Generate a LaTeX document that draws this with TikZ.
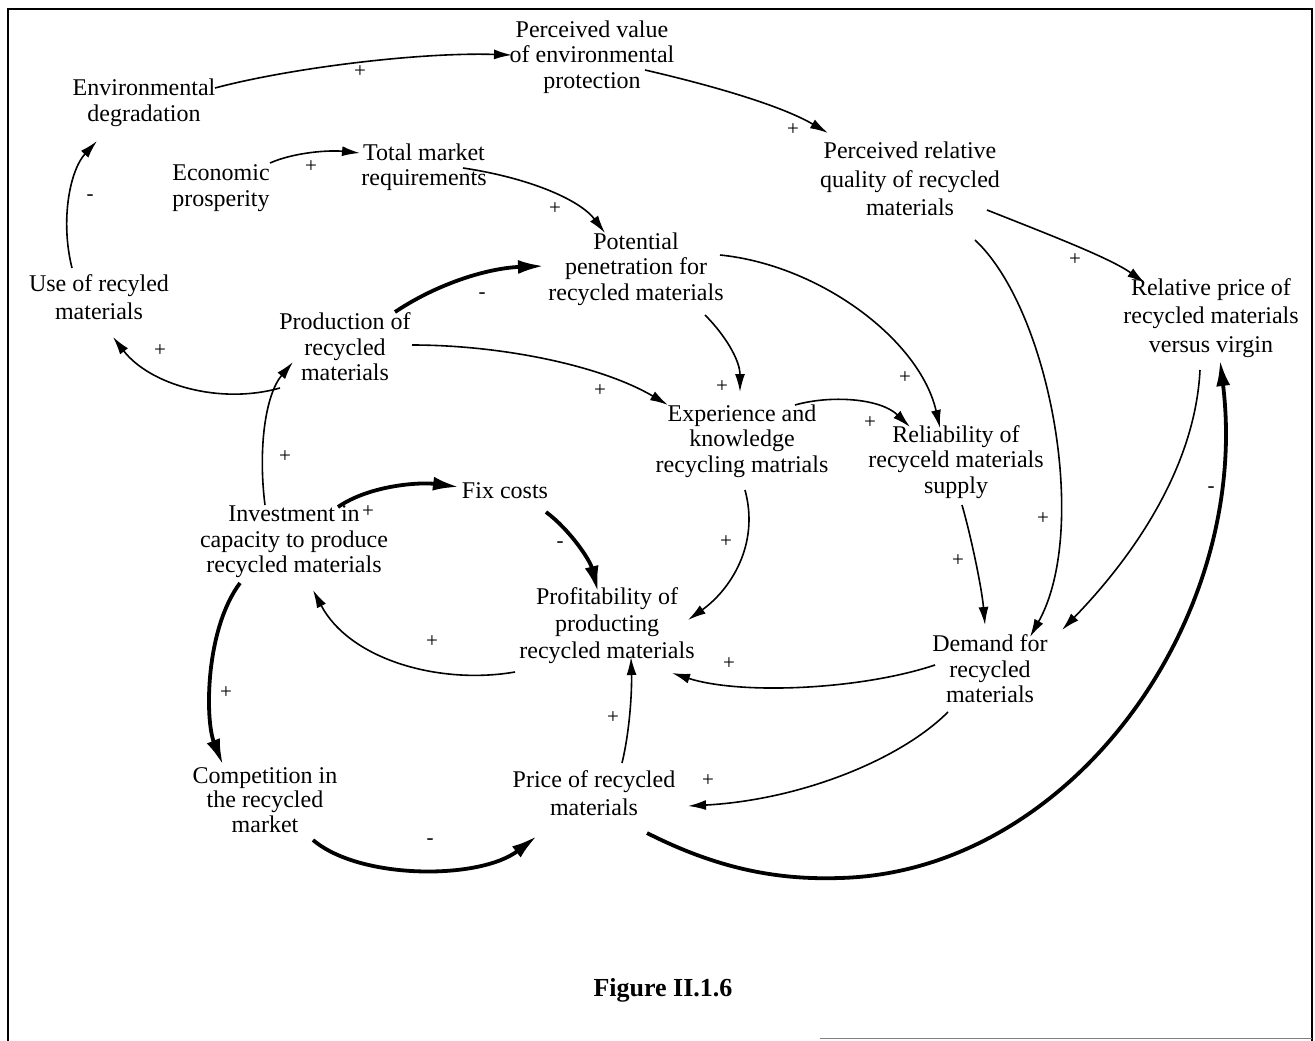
\documentclass[tikz,border=0pt]{standalone}
\usepackage{fontspec}
\setmainfont{Liberation Serif}
\usetikzlibrary{arrows.meta,calc}
\tikzset{
  lbl/.style={align=center,inner sep=0pt,font=\fontsize{24}{25.5}\selectfont},
  lblwide/.style={align=center,inner sep=0pt,font=\fontsize{24}{28.5}\selectfont},
  sgn/.style={inner sep=0pt,font=\fontsize{21}{21}\selectfont},
  thinarr/.style={line width=1.6pt,-{Latex[length=18pt,width=10pt]}},
  thickarr/.style={line width=3.8pt,-{Latex[length=26pt,width=14pt]}},
}
\begin{document}
\begin{tikzpicture}[x=1pt,y=-1pt]
\useasboundingbox (0,0) rectangle (1315,1041);
% frame
\draw[line width=1.5pt] (8,1041) -- (8,9) -- (1312,9) -- (1312,1041);
\draw[line width=1pt,gray] (820,1038) -- (1312,1038);

% nodes
\node[lbl] (pval) at (592,57) {Perceived value\\of environmental\\protection};
\node[lbl] (envdeg) at (144,103) {Environmental\\degradation};
\node[lbl] (econ) at (221,188) {Economic\\prosperity};
\node[lbl] (tmr) at (424,167) {Total market\\requirements};
\node[lblwide] (prq) at (910,179) {Perceived relative\\quality of recycled\\materials};
\node[lbl] (pot) at (636,269) {Potential\\penetration for\\recycled materials};
\node[lblwide] (use) at (99,297) {Use of recyled\\materials};
\node[lbl] (prod) at (345,347) {Production of\\recycled\\materials};
\node[lblwide] (relp) at (1211,318) {Relative price of\\recycled materials\\versus virgin};
\node[lbl] (exp) at (742,441) {Experience and\\knowledge\\recycling matrials};
\node[lbl] (rel) at (956,462) {Reliability of\\recyceld materials\\supply};
\node[lbl] (fix) at (505,491) {Fix costs};
\node[lbl] (inv) at (294,542) {Investment in\\capacity to produce\\recycled materials};
\node[align=center,inner sep=0pt,font=\fontsize{24}{27}\selectfont] (prof) at (607,626) {Profitability of\\producting\\recycled materials};
\node[lbl] (dem) at (990,669) {Demand for\\recycled\\materials};
\node[align=center,inner sep=0pt,font=\fontsize{24}{24.5}\selectfont] (comp) at (265,800) {Competition in\\the recycled\\market};
\node[lblwide] (price) at (594,793) {Price of recycled\\materials};
\node[inner sep=0pt,font=\fontsize{26}{28}\selectfont\bfseries] (fig) at (663,990) {Figure II.1.6};

% connectors (offsets relative to node centres)
\draw[thinarr] ($(envdeg)+(71,-15)$) .. controls (290,68) and (420,52) .. ($(pval)+(-80,-2)$);
\draw[thinarr] ($(pval)+(53,13)$) .. controls (710,85) and (780,105) .. ($(prq)+(-82,-46)$);
\draw[thinarr] ($(econ)+(49,-25)$) .. controls (295,152) and (330,150) .. ($(tmr)+(-64,-14)$);
\draw[thinarr] ($(tmr)+(39,1)$) .. controls (530,178) and (580,200) .. ($(pot)+(-31,-36)$);
\draw[thickarr] ($(prod)+(50,-35)$) .. controls (440,282) and (490,268) .. ($(pot)+(-92,-3)$);
\draw[thinarr] ($(use)+(-27,-29)$) .. controls (60,220) and (70,170) .. ($(envdeg)+(-47,38)$);
\draw[thinarr] ($(prod)+(-65,41)$) .. controls (220,405) and (150,385) .. ($(use)+(14,40)$);
\draw[thinarr] ($(prod)+(67,-2)$) .. controls (500,345) and (600,365) .. ($(exp)+(-74,-36)$);
\draw[thinarr] ($(pot)+(69,46)$) .. controls (725,335) and (740,360) .. ($(exp)+(-2,-49)$);
\draw[thinarr] ($(pot)+(84,-14)$) .. controls (820,265) and (920,340) .. ($(rel)+(-16,-34)$);
\draw[thinarr] ($(exp)+(53,-36)$) .. controls (830,395) and (880,398) .. ($(rel)+(-46,-35)$);
\draw[thinarr] ($(prq)+(77,31)$) .. controls (1050,235) and (1110,258) .. ($(relp)+(-66,-35)$);
\draw[thinarr] ($(prq)+(65,61)$) .. controls (1050,310) and (1090,530) .. ($(dem)+(40,-32)$);
\draw[thinarr] ($(relp)+(-11,52)$) .. controls (1195,470) and (1130,560) .. ($(dem)+(72,-39)$);
\draw[thinarr] ($(rel)+(6,43)$) .. controls (972,540) and (982,590) .. ($(dem)+(-5,-44)$);
\draw[thinarr] ($(exp)+(3,49)$) .. controls (760,545) and (730,590) .. ($(prof)+(81,-6)$);
\draw[thickarr] ($(inv)+(44,-35)$) .. controls (370,485) and (420,482) .. ($(fix)+(-46,-4)$);
\draw[thickarr] ($(fix)+(41,21)$) .. controls (570,530) and (590,560) .. ($(prof)+(-9,-34)$);
\draw[thinarr] ($(inv)+(-29,-37)$) .. controls (258,450) and (265,395) .. ($(prod)+(-52,15)$);
\draw[thinarr] ($(prof)+(-92,46)$) .. controls (440,685) and (350,660) .. ($(inv)+(19,48)$);
\draw[thinarr] ($(dem)+(-55,-4)$) .. controls (860,690) and (740,695) .. ($(prof)+(65,47)$);
\draw[thinarr] ($(dem)+(-42,43)$) .. controls (900,760) and (800,800) .. ($(price)+(94,13)$);
\draw[thinarr] ($(price)+(28,-30)$) .. controls (630,730) and (632,690) .. ($(prof)+(24,31)$);
\draw[thickarr] ($(inv)+(-54,41)$) .. controls (205,630) and (205,720) .. ($(comp)+(-42,-35)$);
\draw[thickarr] ($(comp)+(48,40)$) .. controls (360,880) and (480,880) .. ($(price)+(-57,43)$);
\draw[thickarr] ($(price)+(53,40)$) .. controls (720,870) and (780,880) .. (840,878)
   .. controls (1070,872) and (1252,620) .. ($(relp)+(9,42)$);

% polarity signs
\node[sgn] (s1) at (360,72) {+};
\node[sgn] (s2) at (793,130) {+};
\node[sgn] (s3) at (311,167) {+};
\node[sgn] (s4) at (555,209) {+};
\node[sgn] (s5) at (482,296) {-};
\node[sgn] (s6) at (90,198) {-};
\node[sgn] (s7) at (160,351) {+};
\node[sgn] (s8) at (600,391) {+};
\node[sgn] (s9) at (722,387) {+};
\node[sgn] (s10) at (905,378) {+};
\node[sgn] (s11) at (870,423) {+};
\node[sgn] (s12) at (1075,260) {+};
\node[sgn] (s13) at (1043,519) {+};
\node[sgn] (s14) at (1211,490) {-};
\node[sgn] (s15) at (958,561) {+};
\node[sgn] (s16) at (726,542) {+};
\node[sgn] (s17) at (368,512) {+};
\node[sgn] (s18) at (560,545) {-};
\node[sgn] (s19) at (285,457) {+};
\node[sgn] (s20) at (432,642) {+};
\node[sgn] (s21) at (729,664) {+};
\node[sgn] (s22) at (708,781) {+};
\node[sgn] (s23) at (613,718) {+};
\node[sgn] (s24) at (226,693) {+};
\node[sgn] (s25) at (430,842) {-};
\end{tikzpicture}
\end{document}
